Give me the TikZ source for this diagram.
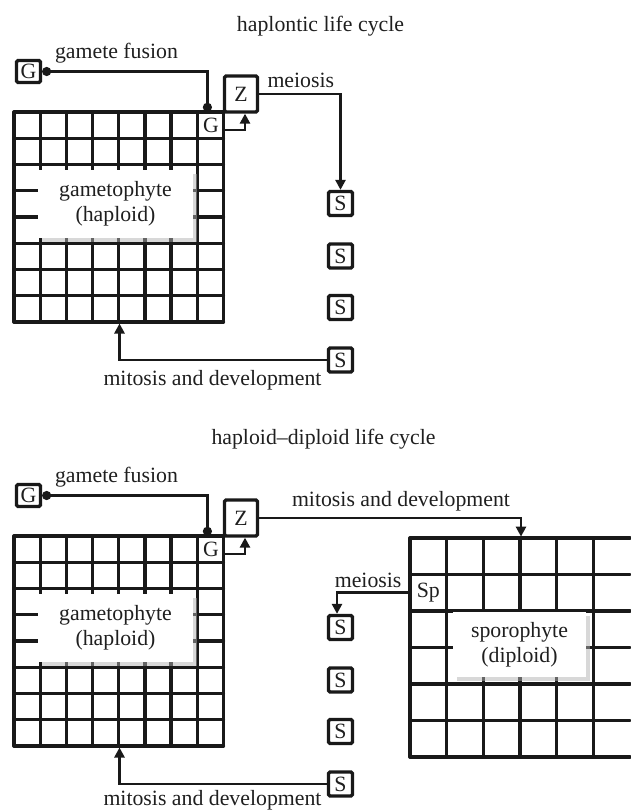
\documentclass[tikz,border=0pt]{standalone}
\usepackage{fontspec}
\setmainfont{Liberation Serif}
\usetikzlibrary{arrows.meta,shadows}
\begin{document}
\begin{tikzpicture}[x=1pt,y=-1pt,
  every node/.style={font=\fontsize{21.8}{25}\selectfont, text=black!88},
  gline/.style={line width=3.3pt, draw=black!90, line cap=round},
  sbox/.style={draw=black!90, line width=3.3pt, fill=white, rounded corners=1.5pt,
    minimum width=24pt, minimum height=24pt, inner sep=0pt},
  cellnode/.style={inner sep=0pt},
  conn/.style={line width=2.8pt, draw=black!90, -{Triangle[length=10pt,width=10pt]}},
  fus/.style={line width=2.8pt, draw=black!90, {Circle[length=9pt]}-{Circle[length=9pt]}},
  labbox/.style={fill=white, inner sep=0pt, align=center,
    drop shadow={shadow xshift=3.5pt, shadow yshift=-3.5pt, fill=black!30}},
]
\useasboundingbox (0,0) rectangle (630,812);

% titles
\node[anchor=base] (t1) at (320.5,31) {haplontic life cycle};
\node[anchor=base] (t2) at (323.5,444) {haploid–diploid life cycle};

% common gametophyte part (top: shift 0, bottom: shift 424)
\foreach \dy/\s/\mb in {0/a/385,424/b/381} {
 \begin{scope}[shift={(0,\dy)}]
  \foreach \i in {0,...,8} \draw[gline] ({14+\i*26.19},112) -- ({14+\i*26.19},322);
  \foreach \j in {0,...,8} \draw[gline] (14,{112+\j*26.25}) -- (223.5,{112+\j*26.25});
  \node[labbox, minimum width=155pt, minimum height=68pt] (gl\s) at (115.5,204)
    {gametophyte\\(haploid)};
  \node[cellnode, minimum width=25pt, minimum height=26pt] (Gc\s) at (210.9,125) {G};
  \node[sbox, minimum height=22pt] (G\s) at (28.5,71.5) {G};
  \node[sbox, minimum width=33pt, minimum height=36pt] (Z\s) at (241,94) {Z};
  \node[anchor=base] (gf\s) at (116.5,58) {gamete fusion};
  \draw[fus] (G\s.east) -| ([xshift=-3.5pt]Gc\s.north);
  \draw[conn] ([yshift=-5pt]Gc\s.east) -| ([xshift=4pt]Z\s.south);
  \node[sbox] (S1\s) at (340.5,203.5) {S};
  \node[sbox] (S2\s) at (340.5,256) {S};
  \node[sbox] (S3\s) at (340.5,307.5) {S};
  \node[sbox] (S4\s) at (340.5,360) {S};
  \coordinate (mt\s) at (119.5,323.5);
  \draw[conn] (S4\s.west) -| (mt\s);
  \node[anchor=base] (md\s) at (212.5,\mb) {mitosis and development};
 \end{scope}
}

% haplontic: meiosis
\draw[conn] (Za.east) -| (S1a.north);
\node[anchor=base west] (mea) at (264,87) {meiosis};

% haploid-diploid: sporophyte
\foreach \i in {0,...,5} \draw[gline] ({410+\i*36.67},538) -- ({410+\i*36.67},757);
\foreach \j in {0,...,6} \draw[gline] (410,{538+\j*36.5}) -- (630,{538+\j*36.5});
\node[labbox, minimum width=133pt, minimum height=65pt] (sl) at (519.5,644.5)
  {sporophyte\\(diploid)};
\node[cellnode, minimum width=36.7pt, minimum height=36.5pt] (Sp) at (428.3,592.75) {Sp};
\coordinate (sa) at (521,536.6);
\draw[conn] (Zb.east) -| (sa);
\node[anchor=base] (mdt) at (401,506) {mitosis and development};
\draw[conn] (Sp.west) -| ([xshift=-3.5pt]S1b.north);
\node[anchor=base east] (meb) at (405,587) {meiosis};
\end{tikzpicture}
\end{document}
